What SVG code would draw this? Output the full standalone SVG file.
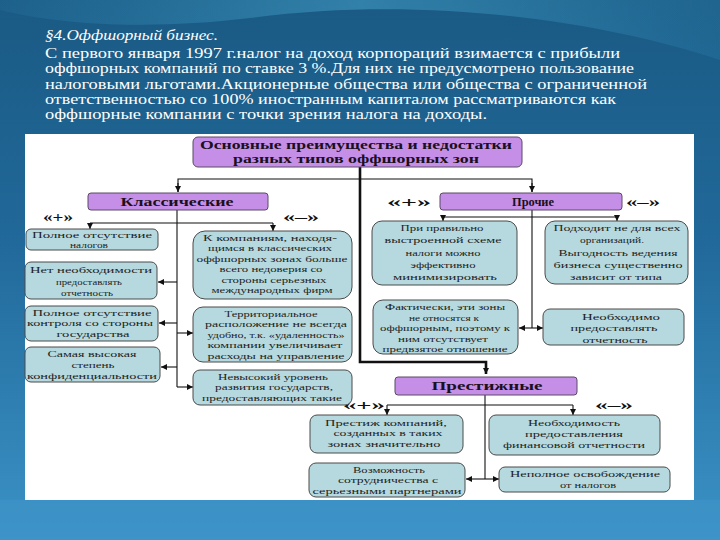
<svg xmlns="http://www.w3.org/2000/svg" width="720" height="540" viewBox="0 0 720 540" font-family="'Liberation Serif', 'Times New Roman', Times, serif">
<defs>
<linearGradient id="bg" x1="0" y1="0" x2="0" y2="1">
<stop offset="0" stop-color="#1a5a84"/>
<stop offset="0.45" stop-color="#21699a"/>
<stop offset="1" stop-color="#3b92c6"/>
</linearGradient>
<linearGradient id="sw" x1="0" y1="0" x2="1" y2="0">
<stop offset="0" stop-color="#3aa0cc" stop-opacity="0.1"/>
<stop offset="0.5" stop-color="#4fb0d8" stop-opacity="0.45"/>
<stop offset="1" stop-color="#3aa0cc" stop-opacity="0.15"/>
</linearGradient>
<marker id="ah" viewBox="0 0 8 8" refX="8" refY="4" markerWidth="6" markerHeight="6" orient="auto" markerUnits="userSpaceOnUse">
<path d="M0,0 L8,4 L0,8 z" fill="#111"/>
</marker>
<style>
.hd{fill:#ffffff}
.pb{fill:#c58fe8;stroke:#5a4a66;stroke-width:1}
.tb{fill:#b5d9de;stroke:#4a4a4a;stroke-width:1}
.pt{font-weight:bold;fill:#1a1020;text-anchor:middle}
.bt{font-size:9px;fill:#222;text-anchor:middle}
.lb{font-weight:bold;font-size:14px;fill:#111;text-anchor:middle}
.ln{stroke:#111;stroke-width:1.1;fill:none}
.lk{stroke:#111;stroke-width:2.6;fill:none}
</style>
</defs>

<rect x="0" y="0" width="720" height="540" fill="url(#bg)"/>
<path d="M0,0 L720,0 L720,60 C600,20 420,-5 250,18 C150,30 60,25 0,10 z" fill="url(#sw)"/>
<path d="M0,500 L720,500 L720,540 L0,540 z" fill="#3f96c9" opacity="0.5"/>

<text class="hd" x="45" y="40" font-size="14" font-style="italic" textLength="173" lengthAdjust="spacingAndGlyphs">§4.Оффшорный бизнес.</text>
<text class="hd" x="45" y="58" font-size="14" textLength="575" lengthAdjust="spacingAndGlyphs">С первого января 1997 г.налог на доход корпораций взимается с прибыли</text>
<text class="hd" x="45" y="73.3" font-size="14" textLength="589" lengthAdjust="spacingAndGlyphs">оффшорных компаний по ставке 3 %.Для них не предусмотрено пользование</text>
<text class="hd" x="45" y="88.6" font-size="14" textLength="602" lengthAdjust="spacingAndGlyphs">налоговыми льготами.Акционерные общества или общества с ограниченной</text>
<text class="hd" x="45" y="103.9" font-size="14" textLength="571" lengthAdjust="spacingAndGlyphs">ответственностью со 100% иностранным капиталом рассматриваются как</text>
<text class="hd" x="45" y="119.2" font-size="14" textLength="442" lengthAdjust="spacingAndGlyphs">оффшорные компании с точки зрения  налога на доходы.</text>

<rect x="25" y="134" width="669" height="366" fill="#ffffff"/>

<g id="connectors">
<path class="lk" d="M360,167 V362 H486 V374" marker-end="url(#ah)"/>
<path class="ln" d="M178,192 V179 H532 V192" />
<path class="ln" d="M178,183 V192" marker-end="url(#ah)"/>
<path class="ln" d="M532,183 V192" marker-end="url(#ah)"/>
<path class="ln" d="M177,210 V387"/>
<path class="ln" d="M90,223 H273"/>
<path class="ln" d="M90,223 V229" marker-end="url(#ah)"/>
<path class="ln" d="M273,223 V231" marker-end="url(#ah)"/>
<path class="ln" d="M177,282 H158" marker-end="url(#ah)"/>
<path class="ln" d="M177,323 H159" marker-end="url(#ah)"/>
<path class="ln" d="M177,367 H161" marker-end="url(#ah)"/>
<path class="ln" d="M177,333 H193" marker-end="url(#ah)"/>
<path class="ln" d="M177,387 H193" marker-end="url(#ah)"/>
<path class="ln" d="M532,210 V328"/>
<path class="ln" d="M443,217 H617"/>
<path class="ln" d="M443,217 V221" marker-end="url(#ah)"/>
<path class="ln" d="M617,217 V221" marker-end="url(#ah)"/>
<path class="ln" d="M532,328 H519" marker-end="url(#ah)"/>
<path class="ln" d="M532,328 H543" marker-end="url(#ah)"/>
<path class="ln" d="M485,395 V479"/>
<path class="ln" d="M387,405 H573"/>
<path class="ln" d="M387,405 V415" marker-end="url(#ah)"/>
<path class="ln" d="M573,405 V415" marker-end="url(#ah)"/>
<path class="ln" d="M485,479 H466" marker-end="url(#ah)"/>
<path class="ln" d="M485,479 H499" marker-end="url(#ah)"/>
</g>

<g id="title">
<rect class="pb" x="193" y="137" width="329" height="30" rx="5"/>
<text class="pt" x="356" y="149" font-size="12.5" textLength="312" lengthAdjust="spacingAndGlyphs">Основные преимущества и недостатки</text>
<text class="pt" x="356" y="163" font-size="12.5" textLength="246" lengthAdjust="spacingAndGlyphs">разных типов оффшорных зон</text>
</g>

<g id="classic">
<rect class="pb" x="88" y="193" width="180" height="17" rx="3"/>
<text class="pt" x="177" y="206" font-size="11.5" textLength="113" lengthAdjust="spacingAndGlyphs">Классические</text>
</g>
<g id="classic-plus"><text class="lb" x="58" y="222" textLength="30" lengthAdjust="spacingAndGlyphs">«+»</text></g>
<g id="classic-minus"><text class="lb" x="301" y="222" textLength="36" lengthAdjust="spacingAndGlyphs">«–»</text></g>

<g id="other">
<rect class="pb" x="440" y="193" width="182" height="17" rx="3"/>
<text class="pt" x="533" y="206" font-size="11.5" textLength="42" lengthAdjust="spacingAndGlyphs">Прочие</text>
</g>
<g id="other-plus"><text class="lb" x="409" y="207" textLength="44" lengthAdjust="spacingAndGlyphs">«+»</text></g>
<g id="other-minus"><text class="lb" x="643" y="207" textLength="34" lengthAdjust="spacingAndGlyphs">«–»</text></g>

<g id="prestige">
<rect class="pb" x="395" y="377" width="182" height="18" rx="3"/>
<text class="pt" x="487" y="390" font-size="12" textLength="111" lengthAdjust="spacingAndGlyphs">Престижные</text>
</g>
<g id="prestige-plus"><text class="lb" x="364" y="410" textLength="42" lengthAdjust="spacingAndGlyphs">«+»</text></g>
<g id="prestige-minus"><text class="lb" x="614" y="410" textLength="38" lengthAdjust="spacingAndGlyphs">«–»</text></g>

<g id="l1">
<rect class="tb" x="26" y="229" width="132" height="21" rx="5"/>
<text class="bt" x="92" y="238" font-size="8" textLength="120" lengthAdjust="spacingAndGlyphs">Полное отсутствие</text>
<text class="bt" x="89" y="247.5" font-size="8" textLength="38" lengthAdjust="spacingAndGlyphs">налогов</text>
</g>
<g id="l2">
<rect class="tb" x="25" y="262" width="132" height="37" rx="6"/>
<text class="bt" x="91" y="273" textLength="122" lengthAdjust="spacingAndGlyphs">Нет необходимости</text>
<text class="bt" x="89" y="285" textLength="66" lengthAdjust="spacingAndGlyphs">предоставлять</text>
<text class="bt" x="87" y="296" textLength="52" lengthAdjust="spacingAndGlyphs">отчетность</text>
</g>
<g id="l3">
<rect class="tb" x="25" y="306" width="133" height="35" rx="6"/>
<text class="bt" x="92" y="315.5" textLength="119" lengthAdjust="spacingAndGlyphs">Полное отсутствие</text>
<text class="bt" x="90" y="326" textLength="126" lengthAdjust="spacingAndGlyphs">контроля со стороны</text>
<text class="bt" x="93" y="337" textLength="73" lengthAdjust="spacingAndGlyphs">государства</text>
</g>
<g id="l4">
<rect class="tb" x="25" y="347" width="135" height="35" rx="6"/>
<text class="bt" x="92" y="357" textLength="89" lengthAdjust="spacingAndGlyphs">Самая высокая</text>
<text class="bt" x="93" y="368" textLength="43" lengthAdjust="spacingAndGlyphs">степень</text>
<text class="bt" x="92" y="379" textLength="130" lengthAdjust="spacingAndGlyphs">конфиденциальности</text>
</g>

<g id="r1">
<rect class="tb" x="193" y="231" width="159" height="68" rx="12"/>
<text class="bt" x="270" y="240.5" textLength="134" lengthAdjust="spacingAndGlyphs">К компаниям, находя-</text>
<text class="bt" x="270" y="251" textLength="124" lengthAdjust="spacingAndGlyphs">щимся в классических</text>
<text class="bt" x="272" y="261.5" textLength="151" lengthAdjust="spacingAndGlyphs">оффшорных зонах больше</text>
<text class="bt" x="271" y="272" textLength="103" lengthAdjust="spacingAndGlyphs">всего недоверия со</text>
<text class="bt" x="274" y="282.5" textLength="105" lengthAdjust="spacingAndGlyphs">стороны серьезных</text>
<text class="bt" x="272" y="293" textLength="121" lengthAdjust="spacingAndGlyphs">международных фирм</text>
</g>
<g id="r2">
<rect class="tb" x="193" y="307" width="159" height="55" rx="10"/>
<text class="bt" x="271" y="316.5" textLength="93" lengthAdjust="spacingAndGlyphs">Территориальное</text>
<text class="bt" x="276" y="327" textLength="142" lengthAdjust="spacingAndGlyphs">расположение не всегда</text>
<text class="bt" x="276" y="337.5" textLength="137" lengthAdjust="spacingAndGlyphs">удобно, т.к. «удаленность»</text>
<text class="bt" x="275" y="348" textLength="135" lengthAdjust="spacingAndGlyphs">компании увеличивает</text>
<text class="bt" x="276" y="358.5" textLength="137" lengthAdjust="spacingAndGlyphs">расходы на управление</text>
</g>
<g id="r3">
<rect class="tb" x="193" y="370" width="159" height="35" rx="7"/>
<text class="bt" x="273" y="379.5" textLength="110" lengthAdjust="spacingAndGlyphs">Невысокий уровень</text>
<text class="bt" x="274" y="390" textLength="118" lengthAdjust="spacingAndGlyphs">развития государств,</text>
<text class="bt" x="272" y="400.5" textLength="140" lengthAdjust="spacingAndGlyphs">предоставляющих такие</text>
</g>

<g id="p1">
<rect class="tb" x="372" y="221" width="145" height="64" rx="10"/>
<text class="bt" x="442" y="231" textLength="83" lengthAdjust="spacingAndGlyphs">При правильно</text>
<text class="bt" x="443" y="243" textLength="117" lengthAdjust="spacingAndGlyphs">выстроенной схеме</text>
<text class="bt" x="443" y="256" textLength="75" lengthAdjust="spacingAndGlyphs">налоги можно</text>
<text class="bt" x="443" y="268" textLength="65" lengthAdjust="spacingAndGlyphs">эффективно</text>
<text class="bt" x="445" y="280" textLength="104" lengthAdjust="spacingAndGlyphs">минимизировать</text>
</g>
<g id="p2">
<rect class="tb" x="545" y="221" width="143" height="63" rx="10"/>
<text class="bt" x="617" y="231" textLength="127" lengthAdjust="spacingAndGlyphs">Подходит не для всех</text>
<text class="bt" x="612" y="243" textLength="64" lengthAdjust="spacingAndGlyphs">организаций.</text>
<text class="bt" x="618" y="256" textLength="119" lengthAdjust="spacingAndGlyphs">Выгодность ведения</text>
<text class="bt" x="618" y="268" textLength="129" lengthAdjust="spacingAndGlyphs">бизнеса существенно</text>
<text class="bt" x="616" y="280" textLength="92" lengthAdjust="spacingAndGlyphs">зависит от типа</text>
</g>
<g id="p3">
<rect class="tb" x="373" y="300" width="145" height="54" rx="10"/>
<text class="bt" x="445" y="310" textLength="120" lengthAdjust="spacingAndGlyphs">Фактически, эти зоны</text>
<text class="bt" x="444" y="320.5" textLength="70" lengthAdjust="spacingAndGlyphs">не относятся к</text>
<text class="bt" x="445" y="331" textLength="130" lengthAdjust="spacingAndGlyphs">оффшорным, поэтому к</text>
<text class="bt" x="443" y="341.5" textLength="90" lengthAdjust="spacingAndGlyphs">ним отсутствует</text>
<text class="bt" x="445" y="352" textLength="125" lengthAdjust="spacingAndGlyphs">предвзятое отношение</text>
</g>
<g id="p4">
<rect class="tb" x="543" y="309" width="141" height="36" rx="7"/>
<text class="bt" x="621" y="320" textLength="78" lengthAdjust="spacingAndGlyphs">Необходимо</text>
<text class="bt" x="614" y="331" textLength="87" lengthAdjust="spacingAndGlyphs">предоставлять</text>
<text class="bt" x="615" y="343" textLength="65" lengthAdjust="spacingAndGlyphs">отчетность</text>
</g>

<g id="q1">
<rect class="tb" x="310" y="415" width="153" height="38" rx="7"/>
<text class="bt" x="386" y="425.5" textLength="122" lengthAdjust="spacingAndGlyphs">Престиж компаний,</text>
<text class="bt" x="388" y="436" textLength="109" lengthAdjust="spacingAndGlyphs">созданных в таких</text>
<text class="bt" x="384" y="446.5" textLength="113" lengthAdjust="spacingAndGlyphs">зонах значительно</text>
</g>
<g id="q2">
<rect class="tb" x="489" y="415" width="171" height="40" rx="7"/>
<text class="bt" x="574" y="425.5" textLength="92" lengthAdjust="spacingAndGlyphs">Необходимость</text>
<text class="bt" x="574" y="436.5" textLength="98" lengthAdjust="spacingAndGlyphs">предоставления</text>
<text class="bt" x="574" y="448" textLength="142" lengthAdjust="spacingAndGlyphs">финансовой отчетности</text>
</g>
<g id="q3">
<rect class="tb" x="309" y="463" width="156" height="34" rx="7"/>
<text class="bt" x="389" y="472.5" textLength="72" lengthAdjust="spacingAndGlyphs">Возможность</text>
<text class="bt" x="388" y="483" textLength="100" lengthAdjust="spacingAndGlyphs">сотрудничества с</text>
<text class="bt" x="387" y="493.5" textLength="149" lengthAdjust="spacingAndGlyphs">серьезными партнерами</text>
</g>
<g id="q4">
<rect class="tb" x="499" y="467" width="171" height="25" rx="6"/>
<text class="bt" x="585" y="477" textLength="150" lengthAdjust="spacingAndGlyphs">Неполное освобождение</text>
<text class="bt" x="588" y="488" textLength="56" lengthAdjust="spacingAndGlyphs">от налогов</text>
</g>
</svg>
